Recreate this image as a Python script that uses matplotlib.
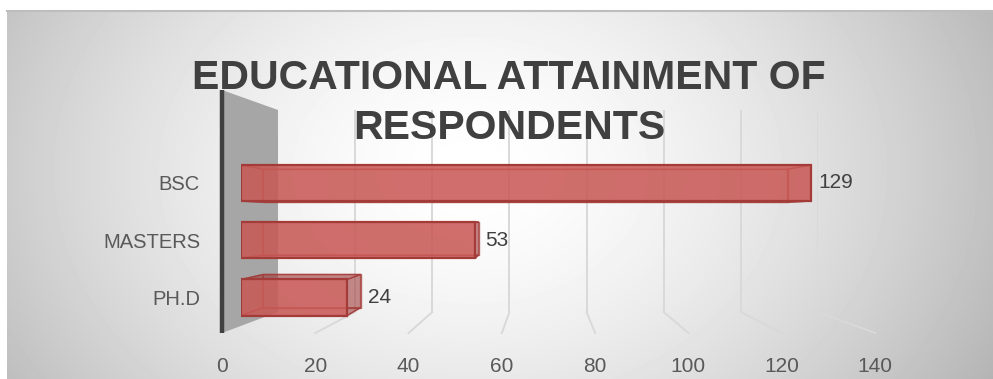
import numpy as np
import matplotlib
matplotlib.use("Agg")
import matplotlib.pyplot as plt
from matplotlib.patches import Polygon

plt.rcParams['font.family'] = ['Liberation Sans', 'DejaVu Sans']

# ---- data ----
categories = ["BSC", "MASTERS", "PH.D"]
values = [129, 53, 24]
ticks = [0, 20, 40, 60, 80, 100, 120, 140]
title = "EDUCATIONAL ATTAINMENT OF\nRESPONDENTS"

W, H = 993, 379


def box(x0, y0, x1, y1):
    # pixel box (top-left origin) -> figure fraction rect
    return [x0 / W, 1 - y1 / H, (x1 - x0) / W, (y1 - y0) / H]


fig = plt.figure(figsize=(W / 100, H / 100), dpi=100)

# background, radial grey gradient
bg = fig.add_axes(box(7, 11, 993, 379), zorder=0)
yy, xx = np.mgrid[11:379, 7:993]
r = np.hypot((xx - 470) / 560, (yy - 170) / 420)
shade = np.clip(1 - 0.27 * r ** 1.6, 0, 1)
bg.imshow(shade, cmap='gray', vmin=0, vmax=1, aspect='auto', extent=(0, 1, 0, 1))
bg.plot([0, 1], [1, 1], color='#bdbdbd', lw=1.5, transform=bg.transAxes, clip_on=False)
bg.axis('off')

# back wall (gridlines) and front edge of the floor (tick labels)
back = fig.add_axes(box(278, 110, 818, 312), zorder=1)
back.set_xlim(0, 140)
back.set_ylim(0, 1)
back.axis('off')

front = fig.add_axes(box(222, 90, 875, 333), zorder=2)
front.set_xlim(0, 140)
front.set_ylim(0, 1)
front.patch.set_visible(False)
for s in front.spines.values():
    s.set_visible(False)
front.set_yticks([])
front.set_xticks(ticks, [str(t) for t in ticks])
front.tick_params(axis='x', length=0, pad=17, labelsize=15, labelcolor='#595959')


def to_back(pts):
    return back.transData.inverted().transform(front.transData.transform(pts))


grid_col = '#d9d9d9'
for t in ticks[1:]:
    back.axvline(t, color=grid_col, lw=1.4)
    p = to_back([(t, 0)])[0]
    back.plot([t, p[0]], [0, p[1]], color=grid_col, lw=1.4, clip_on=False)

# left side wall
wall = [(0, 0), (0, 1)] + [tuple(p) for p in to_back([(0, 1), (0, 0)])]
back.add_patch(Polygon(wall, closed=True, facecolor='#a6a6a6', edgecolor='none',
                       clip_on=False, zorder=3))
front.plot([0, 0], [0, 1], color='#404040', lw=3.2, clip_on=False, solid_capstyle='butt')

# bars
px_per_unit = 4.42
y_top = 297.5 - 2.5 * 57.25
y_bot = 297.5 + 0.5 * 57.25
bars = fig.add_axes(box(241, y_top, 241 + px_per_unit * 140, y_bot), zorder=3)
bars.set_xlim(0, 140)
bars.set_ylim(-0.5, 2.5)
bars.patch.set_visible(False)
for s in bars.spines.values():
    s.set_visible(False)
bars.set_xticks([])
ypos = [2, 1, 0]
bars.set_yticks(ypos, categories)
bars.tick_params(axis='y', length=0, pad=29.5, labelsize=14.5, labelcolor='#595959')

h = 0.63
vp = np.array([62.2, 1.40])
sc = 0.92
edge = '#a33b39'
for y, v in zip(ypos, values):
    fl_b, fr_b = np.array([0, y - h / 2]), np.array([v, y - h / 2])
    fr_t, fl_t = np.array([v, y + h / 2]), np.array([0, y + h / 2])
    bl_b, br_b, br_t, bl_t = [vp + sc * (c - vp) for c in (fl_b, fr_b, fr_t, fl_t)]
    faces = [
        [bl_b, br_b, br_t, bl_t],
        [fl_t, fr_t, br_t, bl_t],
        [fl_b, fr_b, br_b, bl_b],
        [fl_b, fl_t, bl_t, bl_b],
        [fr_b, fr_t, br_t, br_b],
    ]
    for f in faces:
        bars.add_patch(Polygon(f, closed=True, facecolor=(0.62, 0.22, 0.21, 0.35),
                               edgecolor=(0.64, 0.23, 0.22, 0.7), lw=1.0, zorder=2))
    lab_x = max(v, br_t[0]) + 1.6
    bars.text(lab_x, y, str(v), ha='left', va='center', fontsize=15, color='#404040')

bars.barh(ypos, values, height=h, color=(0.80, 0.36, 0.35, 0.8), edgecolor=edge,
          lw=1.6, zorder=3)

# title
fig.text(509 / W, 1 - 103 / H, title, ha='center', va='center', fontsize=29.5,
         fontweight='bold', color='#404040', linespacing=1.38, zorder=10)

fig.savefig("out.png", dpi=100)
